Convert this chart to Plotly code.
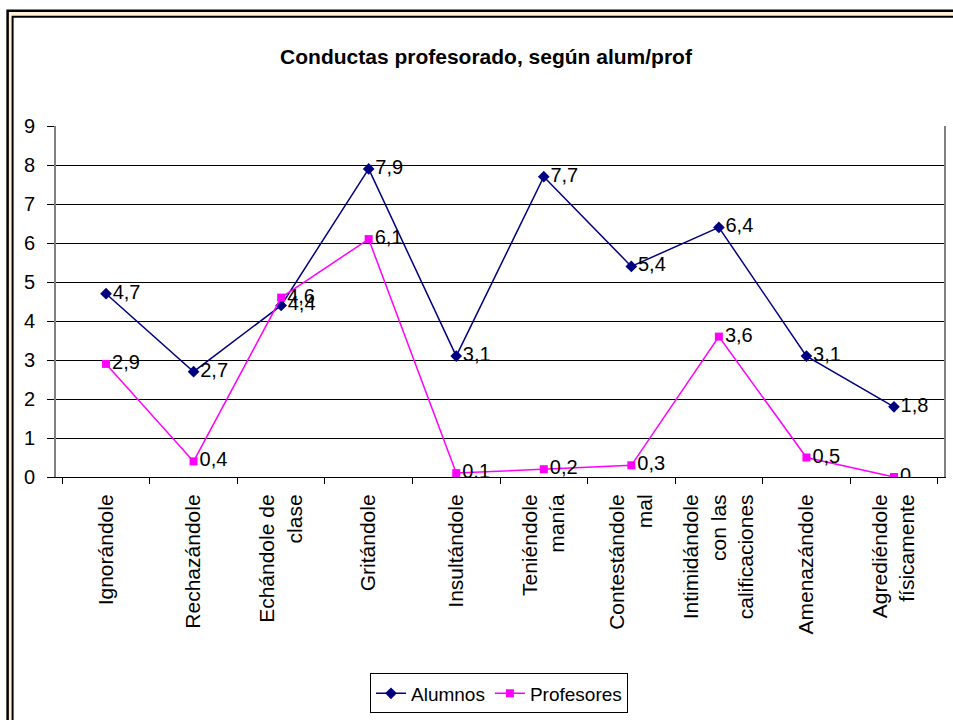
import plotly.graph_objects as go

categories = [
    "Ignorándole",
    "Rechazándole",
    "Echándole de<br>clase",
    "Gritándole",
    "Insultándole",
    "Teniéndole<br>manía",
    "Contestándole<br>mal",
    "Intimidándole<br>con las<br>calificaciones",
    "Amenazándole",
    "Agrediéndole<br>físicamente",
]
alumnos = [4.7, 2.7, 4.4, 7.9, 3.1, 7.7, 5.4, 6.4, 3.1, 1.8]
profesores = [2.9, 0.4, 4.6, 6.1, 0.1, 0.2, 0.3, 3.6, 0.5, 0]

W, H = 953, 720
L, R, T, B = 56, 7, 126, 242
FONT = "Arial, Liberation Sans, sans-serif"


def px(x):
    return (x - L) / (W - L - R)


def py(y):
    return (H - B - y) / (H - T - B)


def lbl(vals):
    return [f"{v:g}".replace(".", ",") for v in vals]


fig = go.Figure()
fig.add_trace(
    go.Scatter(
        x=categories,
        y=alumnos,
        name="Alumnos",
        mode="lines+markers+text",
        line=dict(color="#000080", width=1.5),
        marker=dict(symbol="diamond", size=9, color="#000080"),
        text=lbl(alumnos),
        textposition="middle right",
        textfont=dict(size=20, color="black"),
    )
)
fig.add_trace(
    go.Scatter(
        x=categories,
        y=profesores,
        name="Profesores",
        mode="lines+markers+text",
        line=dict(color="#FF00FF", width=1.5),
        marker=dict(symbol="square", size=8, color="#FF00FF"),
        text=lbl(profesores),
        textposition="middle right",
        textfont=dict(size=20, color="black"),
    )
)

# outer decorative frame
fig.add_shape(type="rect", xref="paper", yref="paper", layer="below",
              x0=px(7.5), y0=py(10.5), x1=px(990), y1=py(760),
              fillcolor="#FFEFD5", line=dict(color="black", width=2.5))
fig.add_shape(type="rect", xref="paper", yref="paper", layer="below",
              x0=px(12.5), y0=py(16.5), x1=px(985), y1=py(755),
              fillcolor="white", line=dict(color="black", width=2))

fig.update_layout(
    width=W,
    height=H,
    margin=dict(l=L, r=R, t=T, b=B),
    paper_bgcolor="white",
    plot_bgcolor="#C0C0C0",
    font=dict(family=FONT, size=20, color="black"),
    title=dict(
        text="<b>Conductas profesorado, según alum/prof</b>",
        x=486 / W,
        xanchor="center",
        y=1 - 57 / H,
        yanchor="middle",
        font=dict(size=21),
    ),
    showlegend=True,
    legend=dict(
        orientation="h",
        x=px(500),
        xanchor="center",
        y=py(675),
        yanchor="top",
        bordercolor="black",
        borderwidth=1,
        bgcolor="white",
        font=dict(size=19),
        itemwidth=30,
    ),
)
fig.update_xaxes(
    type="category",
    tickangle=-90,
    ticks="outside",
    tickson="boundaries",
    ticklen=6,
    tickcolor="black",
    ticklabelstandoff=8,
    showline=True,
    linecolor="black",
    linewidth=1,
    showgrid=False,
    tickfont=dict(size=21),
    fixedrange=True,
)
fig.update_yaxes(
    range=[0, 9],
    dtick=1,
    ticks="outside",
    ticklen=7,
    tickcolor="black",
    ticklabelstandoff=8,
    showline=True,
    linecolor="#808080",
    linewidth=2,
    mirror=True,
    gridcolor="black",
    gridwidth=1,
    zeroline=False,
    tickfont=dict(size=20),
)

fig.write_html(
    "out.html",
    config={"displayModeBar": False},
    post_script="document.body.style.margin = '0';",
)
